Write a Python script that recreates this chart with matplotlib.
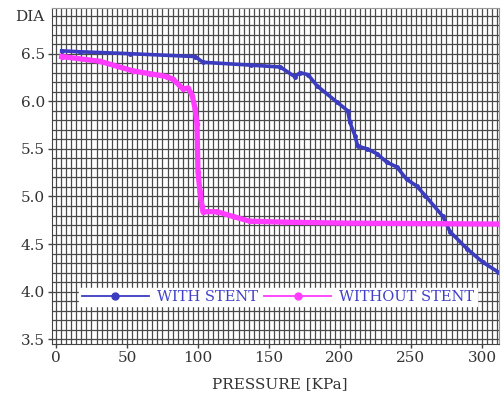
import numpy as np
import matplotlib
matplotlib.use('Agg')
import matplotlib.pyplot as plt

# WITH STENT
stent_p = [4, 17, 52, 98, 103.5, 137, 158, 168, 172, 177.5, 184, 198, 205.5, 207,
           210.5, 212.5, 219, 226, 233, 240, 247, 254, 260, 272.5, 277.5, 289.5,
           300.5, 311]
stent_d = [6.53, 6.52, 6.50, 6.47, 6.41, 6.38, 6.36, 6.26, 6.30, 6.28, 6.16, 5.99,
           5.90, 5.78, 5.64, 5.53, 5.50, 5.45, 5.36, 5.31, 5.18, 5.11, 5.01, 4.79,
           4.63, 4.45, 4.31, 4.21]

# WITHOUT STENT
nostent_p = [4, 31, 54, 66, 78, 82.5, 89.5, 93, 96, 98, 99.3, 100, 101.4, 102.8,
             103.5, 113.5, 124.5, 136.5, 161, 203.5, 312]
nostent_d = [6.47, 6.42, 6.32, 6.29, 6.26, 6.23, 6.13, 6.14, 6.06, 5.92, 5.76, 5.26,
             5.05, 4.90, 4.84, 4.84, 4.79, 4.74, 4.73, 4.72, 4.71]

x_ticks = [0, 50, 100, 150, 200, 250, 300]
y_ticks = [3.5, 4.0, 4.5, 5.0, 5.5, 6.0, 6.5]

blue = '#3c3cc0'
pink = '#ff3cff'
font = 'DejaVu Serif'

plt.rcParams['font.family'] = font

fig = plt.figure(figsize=(5.02, 3.95), dpi=100)
ax = fig.add_axes([52 / 502, 1 - 344 / 395, 447 / 502, 336 / 395])

ax.set_xlim(-2.8, 312)
ax.set_ylim(3.45, 6.98)

# dense background grid: minor lines fill in between the majors
ax.set_xticks(np.arange(0, 313, 50 / 14), minor=True)
ax.set_yticks(np.arange(3.5, 6.98, 0.1), minor=True)
ax.grid(which='both', color='#4a4a4a', linewidth=0.9)
ax.set_axisbelow(True)
ax.tick_params(which='minor', length=0)

ax.set_xticks(x_ticks)
ax.set_xticklabels([str(v) for v in x_ticks])
ax.set_yticks(y_ticks)
ax.set_yticklabels(['%.1f' % v for v in y_ticks])
ax.tick_params(which='major', length=3, width=1, color='#444444',
               labelsize=11, labelcolor='#333333', pad=2)

for s in ax.spines.values():
    s.set_color('#999999')
ax.spines['left'].set_color('#444444')
ax.spines['bottom'].set_color('#444444')

ax.plot(stent_p, stent_d, color=blue, linewidth=2.6, marker='o',
        markersize=2.5, label='WITH STENT')
ax.plot(nostent_p, nostent_d, color=pink, linewidth=3.8, marker='o',
        markersize=3, label='WITHOUT STENT')

leg = ax.legend(loc='lower left', bbox_to_anchor=(0.045, 0.09), ncol=2,
                handlelength=4.6, numpoints=1, frameon=True, fancybox=False,
                framealpha=1, edgecolor='white', borderpad=0.15,
                columnspacing=0.45, handletextpad=0.55, labelcolor='#4040c8',
                prop={'family': font, 'size': 10.5})
for h in leg.legend_handles:
    h.set_linewidth(1.3)
    h.set_markersize(5)

ax.set_xlabel('PRESSURE [KPa]', fontsize=11, color='#333333', labelpad=3)
ax.xaxis.set_label_coords(0.51, -0.1)
fig.text(15 / 502, 1 - 17 / 395, 'DIA', fontsize=11, color='#333333',
         va='center', ha='left')

fig.savefig('out.png', dpi=100)
